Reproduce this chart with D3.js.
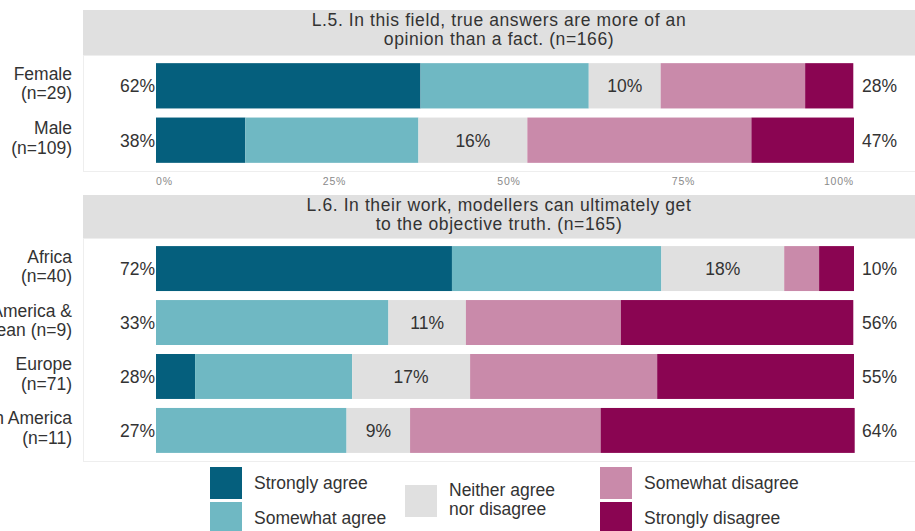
<!DOCTYPE html>
<html>
<head>
<meta charset="utf-8">
<script src="https://cdn.jsdelivr.net/npm/d3@7"></script>
<style>
    body { margin: 0; background: #fff; }
    svg { display: block; font-family: "Liberation Sans", Arial, sans-serif; }
</style>
</head>
<body>
<div id="chart"></div>
<script>
// Response levels and colours
const levels = ["Strongly agree", "Somewhat agree", "Neither agree nor disagree", "Somewhat disagree", "Strongly disagree"];
const levelColors = ["#055f7d", "#6fb8c3", "#e0e0e0", "#c98aaa", "#8a0552"];

// Panel L.5 (gender)
const genderTitle = ["L.5. In this field, true answers are more of an", "opinion than a fact. (n=166)"];
const genderGroups = [["Female", "(n=29)"], ["Male", "(n=109)"]];
const genderValues = [
    [37.9, 24.1, 10.3, 20.7, 6.9],
    [12.8, 24.8, 15.6, 32.1, 14.7],
];

// Panel L.6 (region)
const regionTitle = ["L.6. In their work, modellers can ultimately get", "to the objective truth. (n=165)"];
const regionGroups = [["Africa", "(n=40)"], ["Latin America &", "Caribbean (n=9)"], ["Europe", "(n=71)"], ["North America", "(n=11)"]];
const regionValues = [
    [42.4, 30.0, 17.6, 5.0, 5.0],
    [0, 33.3, 11.1, 22.2, 33.3],
    [5.6, 22.5, 16.9, 26.8, 28.2],
    [0, 27.3, 9.1, 27.3, 36.4],
];

const tickValues = [0, 25, 50, 75, 100];

const width = 915, height = 531;
const svg = d3.select("#chart").append("svg")
    .attr("width", width).attr("height", height);

const x = d3.scaleLinear().domain([0, 100]).range([156, 854]);
const color = d3.scaleOrdinal(levels, levelColors);
const textColor = "#333";
const fs = 17.5;

function panel(title, groups, values, stripTop, stripBottom, panelBottom, showAxis) {
    // strip
    svg.append("rect")
        .attr("x", 83).attr("y", stripTop)
        .attr("width", width - 83).attr("height", stripBottom - stripTop)
        .attr("fill", "#e0e0e0");
    svg.append("text")
        .attr("x", (83 + width) / 2).attr("y", stripTop + 16)
        .attr("text-anchor", "middle")
        .attr("font-size", 17.5).attr("letter-spacing", 0.6).attr("fill", textColor)
        .selectAll("tspan").data(title).join("tspan")
        .attr("x", (83 + width) / 2)
        .attr("dy", (d, i) => i ? 19 : 0)
        .text(d => d);

    // panel background
    svg.append("rect")
        .attr("x", 83.5).attr("y", stripBottom + 0.5)
        .attr("width", width).attr("height", panelBottom - stripBottom)
        .attr("fill", "#fff").attr("stroke", "#eeeeee");

    const y = d3.scaleBand()
        .domain(d3.range(groups.length))
        .range([stripBottom, panelBottom])
        .paddingInner(0.167).paddingOuter(0.15);

    const rows = values.map((v, i) => {
        let cum = 0;
        return v.map((val, j) => {
            const seg = { row: i, level: levels[j], x0: cum, x1: cum + val, value: val };
            cum += val;
            return seg;
        });
    });

    svg.append("g")
        .selectAll("rect")
        .data(rows.flat().filter(d => d.value > 0))
        .join("rect")
        .attr("x", d => x(d.x0))
        .attr("y", d => y(d.row))
        .attr("width", d => x(d.x1) - x(d.x0))
        .attr("height", y.bandwidth())
        .attr("fill", d => color(d.level));

    // left / neutral / right percentage labels
    const fmt = v => Math.round(v) + "%";
    values.forEach((v, i) => {
        const cy = y(i) + y.bandwidth() / 2 + 6.5;
        const left = v[0] + v[1], mid = v[2], right = v[3] + v[4];
        svg.append("text").attr("x", x(0) - 1).attr("y", cy)
            .attr("text-anchor", "end").attr("font-size", fs).attr("fill", textColor)
            .text(fmt(left));
        svg.append("text").attr("x", x(left + mid / 2)).attr("y", cy)
            .attr("text-anchor", "middle").attr("font-size", fs).attr("fill", textColor)
            .text(fmt(mid));
        svg.append("text").attr("x", x(100) + 8).attr("y", cy)
            .attr("text-anchor", "start").attr("font-size", fs).attr("fill", textColor)
            .text(fmt(right));

        // group label
        svg.append("text")
            .attr("x", 72).attr("y", y(i) + y.bandwidth() / 2 - 6)
            .attr("text-anchor", "end").attr("font-size", fs).attr("fill", textColor)
            .selectAll("tspan").data(groups[i]).join("tspan")
            .attr("x", 72).attr("dy", (d, k) => k ? 19.5 : 0)
            .text(d => d);
    });

    if (showAxis) {
        const anchors = ["start", "middle", "middle", "middle", "end"];
        svg.append("g").selectAll("text")
            .data(tickValues).join("text")
            .attr("x", (d, i) => x(d) + (i === 0 || i === 4 ? 0 : 4))
            .attr("y", panelBottom + 14)
            .attr("text-anchor", (d, i) => anchors[i])
            .attr("font-size", 10.5).attr("letter-spacing", 0.8)
            .attr("fill", "#8a8a8a")
            .text(d => d + "%");
    }
}

panel(genderTitle, genderGroups, genderValues, 10, 55, 171, true);
panel(regionTitle, regionGroups, regionValues, 195, 238, 461, false);

// Legend
const legendItems = [
    { level: levels[0], label: ["Strongly agree"], x: 210, y: 467 },
    { level: levels[1], label: ["Somewhat agree"], x: 210, y: 502 },
    { level: levels[2], label: ["Neither agree", "nor disagree"], x: 405, y: 485 },
    { level: levels[3], label: ["Somewhat disagree"], x: 600, y: 467 },
    { level: levels[4], label: ["Strongly disagree"], x: 600, y: 502 },
];
const lg = svg.append("g").selectAll("g").data(legendItems).join("g")
    .attr("transform", d => `translate(${d.x},${d.y})`);
lg.append("rect")
    .attr("width", 32).attr("height", 32)
    .attr("fill", d => color(d.level));
lg.append("text")
    .attr("font-size", fs).attr("fill", textColor)
    .attr("y", d => d.label.length > 1 ? 11 : 22)
    .selectAll("tspan").data(d => d.label).join("tspan")
    .attr("x", 44).attr("dy", (d, k) => k ? 19 : 0)
    .text(d => d);
</script>
</body>
</html>
